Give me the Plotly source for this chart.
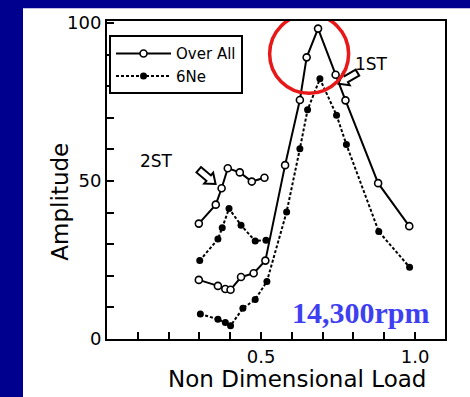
import math
import plotly.graph_objects as go

# ---- data ----
overall_1st_x = [0.298, 0.360, 0.384, 0.401, 0.435, 0.476, 0.514, 0.578, 0.626, 0.648, 0.685, 0.742, 0.774, 0.880, 0.981]
overall_1st_y = [18.7, 16.8, 15.8, 15.6, 19.6, 20.8, 24.8, 55.0, 75.6, 89.1, 98.2, 83.6, 75.5, 49.3, 35.7]
overall_2nd_x = [0.298, 0.353, 0.372, 0.392, 0.431, 0.470, 0.511]
overall_2nd_y = [36.5, 42.5, 47.7, 54.0, 52.7, 49.8, 51.0]
ne6_1st_x = [0.303, 0.360, 0.384, 0.401, 0.441, 0.481, 0.519, 0.583, 0.626, 0.651, 0.691, 0.745, 0.777, 0.882, 0.982]
ne6_1st_y = [7.9, 6.25, 5.2, 4.2, 9.7, 12.5, 18.2, 40.2, 60.2, 72.5, 82.3, 70.8, 61.5, 34.0, 22.7]
ne6_2nd_x = [0.301, 0.360, 0.374, 0.396, 0.435, 0.481, 0.516]
ne6_2nd_y = [24.8, 31.6, 35.2, 41.25, 36.0, 31.0, 31.25]

x_tick_vals = [0.1, 0.2, 0.3, 0.4, 0.5, 0.6, 0.7, 0.8, 0.9, 1.0]
x_tick_text = ["", "", "", "", "0.5", "", "", "", "", "1.0"]
y_tick_vals = [0, 10, 20, 30, 40, 50, 60, 70, 80, 90, 100]
y_tick_text = ["0", "", "", "", "", "50", "", "", "", "", "100"]

NAVY = "#00008E"
FONT = "DejaVu Sans"

fig = go.Figure()

def add_overall(x, y, show):
    fig.add_trace(go.Scatter(
        x=x, y=y, mode="lines+markers", name="Over All",
        legendgroup="oa", showlegend=show,
        line=dict(color="black", width=2),
        marker=dict(symbol="circle", size=7, color="white",
                    line=dict(color="black", width=1.6)),
    ))

def add_ne(x, y, show):
    fig.add_trace(go.Scatter(
        x=x, y=y, mode="lines+markers", name="6Ne",
        legendgroup="ne", showlegend=show,
        line=dict(color="black", width=2, dash="3px,2px"),
        marker=dict(symbol="circle", size=7, color="black"),
    ))

add_overall(overall_1st_x, overall_1st_y, True)
add_ne(ne6_1st_x, ne6_1st_y, True)
add_overall(overall_2nd_x, overall_2nd_y, False)
add_ne(ne6_2nd_x, ne6_2nd_y, False)

shapes = []
# white slide panel over navy background
shapes.append(dict(type="rect", xref="paper", yref="paper",
                   x0=-0.2485, x1=1.2, y0=-0.3, y1=1.0404,
                   fillcolor="white", line=dict(width=0), layer="below"))

# hollow block arrows (pixel-sized, anchored in data coords)
def arrow_path(angle_deg, length=22, body=7, head=14, headlen=9):
    L = length / 2.0
    pts = [(-L, body / 2), (L - headlen, body / 2), (L - headlen, head / 2), (L, 0),
           (L - headlen, -head / 2), (L - headlen, -body / 2), (-L, -body / 2)]
    a = math.radians(angle_deg)
    rp = [(px * math.cos(a) - py * math.sin(a), px * math.sin(a) + py * math.cos(a)) for px, py in pts]
    return "M " + " L ".join(f"{px:.2f},{py:.2f}" for px, py in rp) + " Z"

for ax_, ay_, ang in [(0.325, 51.3, -40), (0.782, 82.5, -150)]:
    shapes.append(dict(type="path", xref="x", yref="y",
                       xsizemode="pixel", ysizemode="pixel",
                       xanchor=ax_, yanchor=ay_,
                       path=arrow_path(ang),
                       line=dict(color="black", width=2), fillcolor="white"))

# red highlight circle
R = 39.5
shapes.append(dict(type="circle", xref="x", yref="y",
                   xsizemode="pixel", ysizemode="pixel",
                   xanchor=0.656, yanchor=90.2,
                   x0=-R, x1=R, y0=-R, y1=R,
                   line=dict(color="#E81818", width=3.5)))

annotations = [
    dict(x=0.162, y=56.3, xref="x", yref="y", text="2ST", showarrow=False,
         font=dict(family=FONT, size=17, color="black")),
    dict(x=0.857, y=87, xref="x", yref="y", text="1ST", showarrow=False,
         font=dict(family=FONT, size=17, color="black")),
    dict(x=0.825, y=8.5, xref="x", yref="y", text="<b>14,300rpm</b>", showarrow=False,
         font=dict(family="Liberation Serif", size=30, color="#3F3FF2")),
    # axis titles
    dict(x=-0.139, y=0.432, xref="paper", yref="paper", text="Amplitude", showarrow=False,
         textangle=-90, xanchor="center", yanchor="middle",
         font=dict(family=FONT, size=23, color="black")),
    dict(x=0.562, y=-0.127, xref="paper", yref="paper", text="Non Dimensional Load", showarrow=False,
         xanchor="center", yanchor="middle",
         font=dict(family=FONT, size=23, color="black")),
]

fig.update_layout(
    width=470, height=397,
    margin=dict(l=107, r=25, t=17, b=58),
    paper_bgcolor=NAVY, plot_bgcolor="white",
    shapes=shapes, annotations=annotations,
    showlegend=True,
    legend=dict(x=0.006, y=0.955, xanchor="left", yanchor="top",
                bgcolor="white", bordercolor="black", borderwidth=2,
                font=dict(family=FONT, size=15, color="black"),
                tracegroupgap=0, itemwidth=55),
    font=dict(family=FONT, color="black"),
)
fig.update_xaxes(range=[0, 1.097], tickmode="array", tickvals=x_tick_vals, ticktext=x_tick_text,
                 ticks="inside", ticklen=7, tickwidth=2, tickcolor="black",
                 showline=True, linecolor="black", linewidth=2, mirror=True,
                 showgrid=False, zeroline=False,
                 tickfont=dict(family=FONT, size=18, color="black"))
fig.update_yaxes(range=[0, 100.6], tickmode="array", tickvals=y_tick_vals, ticktext=y_tick_text,
                 ticks="inside", ticklen=7, tickwidth=2, tickcolor="black",
                 showline=True, linecolor="black", linewidth=2, mirror=True,
                 showgrid=False, zeroline=False,
                 tickfont=dict(family=FONT, size=18, color="black"))

fig.write_html("out.html", config={"displayModeBar": False},
               post_script="document.body.style.margin='0';document.body.style.background='%s';" % NAVY)
